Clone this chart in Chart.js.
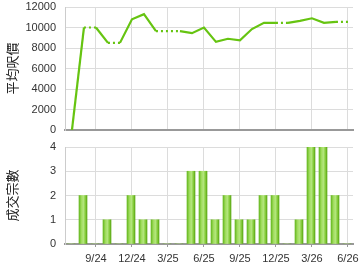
<!DOCTYPE html>
<html><head><meta charset="utf-8">
<script src="https://cdn.jsdelivr.net/npm/chart.js@4"></script>
<style>
html,body{margin:0;padding:0;background:#fff;}
#wrap{position:relative;width:360px;height:270px;overflow:hidden;}
.box{position:absolute;left:0;width:360px;}
</style></head><body>
<div id="wrap">
<div class="box" style="top:0;height:140px"><canvas id="c1"></canvas></div>
<div class="box" style="top:135px;height:135px"><canvas id="c2"></canvas></div>
</div>
<script>
// months (index 1 = 7/24)
const months = ['7/24','8/24','9/24','10/24','11/24','12/24','1/25','2/25','3/25','4/25','5/25','6/25','7/25','8/25','9/25','10/25','11/25','12/25','1/26','2/26','3/26','4/26','5/26','6/26'];
const avgPrice = [0,10000,10000,8500,8500,10800,11300,9650,9650,9650,9450,10000,8600,8900,8750,9850,10450,10450,10450,10650,10900,10450,10550,10550];
const txCount = [0,2,0,1,0,2,1,1,0,0,3,3,1,2,1,1,2,2,0,1,4,4,2,0];
const tickLabels = ['9/24','12/24','3/25','6/25','9/25','12/25','3/26','6/26'];
const priceTicks = [0,2000,4000,6000,8000,10000,12000];
const countTicks = [0,1,2,3,4];

const idx = m => months.indexOf(m) + 1;
const tickPos = tickLabels.map(idx);
const X_MIN = 0.42, X_MAX = 24.42;
const FONT = "'Liberation Sans', Arial, sans-serif";
const GREEN = '#66c411';

function xScale(showLabels){
  return {
    type:'linear', min:X_MIN, max:X_MAX, offset:false,
    afterBuildTicks: s => { s.ticks = tickPos.map(v=>({value:v})); },
    ticks:{display:showLabels, autoSkip:false, maxRotation:0, padding:5,
      color:'#333', font:{family:FONT,size:11},
      callback: v => tickLabels[tickPos.indexOf(v)] },
    grid:{offset:false, color:'#dcdcdc', lineWidth:1, drawTicks:showLabels, tickLength:3, tickColor:'#999'},
    border:{color:'#999', width:2},
    afterFit: s => { s.height = showLabels ? 26 : 0; s.paddingLeft = 0; s.paddingRight = 0; }
  };
}
function yScale(title, vals, max){
  return {
    min:0, max:max,
    afterBuildTicks: s => { s.ticks = vals.map(v=>({value:v})); },
    ticks:{padding:9, color:'#333', font:{family:FONT,size:11}, callback: v => String(v)},
    grid:{color:'#dcdcdc', lineWidth:1, drawTicks:false},
    border:{color:'#ccc', width:1},
    title:{display:true, text:title, color:'#222', font:{family:"'Noto Sans CJK TC', sans-serif", size:13}, padding:{top:4,bottom:0}},
    afterFit: s => { s.width = 65; s.paddingTop = 0; s.paddingBottom = 0; }
  };
}

new Chart(document.getElementById('c1'), {
  type:'line',
  data:{datasets:[{
    data: months.map((m,i)=>({x:idx(m), y:avgPrice[i]})),
    borderColor:GREEN, borderWidth:2.2, pointRadius:0, tension:0,
    segment:{ borderDash: ctx => txCount[ctx.p1DataIndex]===0 && ctx.p1DataIndex>0 ? [2,3] : undefined }
  }]},
  options:{
    responsive:true, maintainAspectRatio:false, animation:false,
    layout:{padding:{top:7,right:7,bottom:10,left:0}},
    plugins:{legend:{display:false}, tooltip:{enabled:false}},
    scales:{ x:xScale(false), y:yScale('平均呎價', priceTicks, 12000) }
  }
});

new Chart(document.getElementById('c2'), {
  type:'bar',
  data:{datasets:[{
    data: months.map((m,i)=>({x:idx(m)-0.08, y:txCount[i]})),
    barThickness:8,
    backgroundColor: ctx => {
      const ch = ctx.chart;
      if(!ch.chartArea || !ch.scales || !ch.scales.x || !ctx.raw) return '#8fd44a';
      const cx = ch.scales.x.getPixelForValue(ctx.raw.x);
      if(!isFinite(cx)) return '#8fd44a';
      const g = ch.ctx.createLinearGradient(cx-4,0,cx+4,0);
      g.addColorStop(0,'#66b820');
      g.addColorStop(0.3,'#9fdc5c');
      g.addColorStop(0.55,'#b4e67e');
      g.addColorStop(0.8,'#86cc3c');
      g.addColorStop(1,'#5aa814');
      return g;
    },
    borderWidth:0
  }]},
  options:{
    responsive:true, maintainAspectRatio:false, animation:false,
    layout:{padding:{top:12,right:7,bottom:0,left:0}},
    plugins:{legend:{display:false}, tooltip:{enabled:false}},
    scales:{ x:xScale(true), y:yScale('成交宗數', countTicks, 4) }
  }
});
</script>
</body></html>
